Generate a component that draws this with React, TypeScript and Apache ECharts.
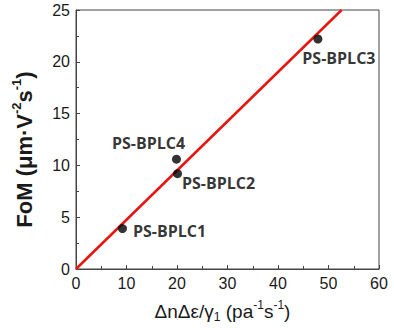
import React, { useEffect, useRef } from "react";
import * as echarts from "echarts";

const sampleNames = ["PS-BPLC1", "PS-BPLC2", "PS-BPLC4", "PS-BPLC3"];
const xValues = [9.2, 20.1, 19.9, 47.9];
const yValues = [3.9, 9.2, 10.6, 22.2];
const fitX = [0, 52.6];
const fitY = [0, 25];
const xTicks = [0, 10, 20, 30, 40, 50, 60];
const yTicks = [0, 5, 10, 15, 20, 25];

const labelPlacement: Record<string, any> = {
  "PS-BPLC1": { position: "right", distance: 6, offset: [0, 2] },
  "PS-BPLC2": { position: "right", distance: 0, offset: [0, 9] },
  "PS-BPLC4": { position: "top", distance: 4, offset: [-28, 0] },
  "PS-BPLC3": { position: "bottom", distance: 4, offset: [21, 2] },
};

export default function App() {
  const ref = useRef<HTMLDivElement>(null);
  useEffect(() => {
    if (!ref.current) return;
    const chart = echarts.init(ref.current, null, { renderer: "svg" });
    const axisColor = "#444";
    const textColor = "#1a1a1a";
    const font = "Liberation Sans, Arial, sans-serif";
    chart.setOption({
      animation: false,
      backgroundColor: "#fff",
      grid: {
        left: 76,
        right: 15,
        top: 10,
        bottom: 58,
        show: true,
        borderColor: axisColor,
        borderWidth: 1,
        containLabel: false,
      },
      xAxis: {
        type: "value",
        min: xTicks[0],
        max: xTicks[xTicks.length - 1],
        interval: 10,
        splitLine: { show: false },
        axisLine: { show: true, lineStyle: { color: axisColor, width: 1 } },
        axisTick: { show: true, inside: true, length: 4, lineStyle: { color: axisColor } },
        minorTick: { show: true, splitNumber: 2, length: 3, lineStyle: { color: axisColor } },
        axisLabel: { color: textColor, fontSize: 16, fontFamily: font, margin: 6 },
        name: "{t|ΔnΔε/γ}{sub|1}{t| (pa}{sup|-1}{t|s}{sup|-1}{t|)}",
        nameLocation: "middle",
        nameGap: 30,
        nameTextStyle: {
          padding: [0, 10, 0, 0],
          rich: {
            t: { fontSize: 19, fontFamily: font, color: textColor, lineHeight: 24, verticalAlign: "middle" },
            sup: { fontSize: 12, fontFamily: font, color: textColor, verticalAlign: "top", lineHeight: 24 },
            sub: { fontSize: 12, fontFamily: font, color: textColor, verticalAlign: "bottom", lineHeight: 17 },
          },
        },
      },
      yAxis: {
        type: "value",
        min: yTicks[0],
        max: yTicks[yTicks.length - 1],
        interval: 5,
        splitLine: { show: false },
        axisLine: { show: true, lineStyle: { color: axisColor, width: 1 } },
        axisTick: { show: true, inside: true, length: 4, lineStyle: { color: axisColor } },
        minorTick: { show: true, splitNumber: 2, length: 3, lineStyle: { color: axisColor } },
        axisLabel: { color: textColor, fontSize: 16, fontFamily: font, margin: 6 },
        name: "{t|FoM (μm·V}{sup|-2}{t|s}{sup|-1}{t|)}",
        nameLocation: "middle",
        nameGap: 38,
        nameTextStyle: {
          padding: [0, 20, 0, 0],
          rich: {
            t: { fontSize: 22, fontWeight: "bold", fontFamily: font, color: textColor, lineHeight: 28, verticalAlign: "middle" },
            sup: { fontSize: 13, fontWeight: "bold", fontFamily: font, color: textColor, verticalAlign: "top", lineHeight: 28 },
          },
        },
      },
      series: [
        {
          type: "line",
          data: fitX.map((x, i) => [x, fitY[i]]),
          symbol: "none",
          lineStyle: { color: "#e8140f", width: 2.5 },
          z: 2,
        },
        {
          type: "scatter",
          symbol: "circle",
          symbolSize: 9,
          itemStyle: { color: "#000" },
          z: 3,
          data: sampleNames.map((name, i) => ({
            name,
            value: [xValues[i], yValues[i]],
            label: {
              show: true,
              formatter: name,
              color: "#000",
              fontSize: 16,
              fontWeight: "bold",
              fontFamily: "Open Sans, sans-serif",
              ...labelPlacement[name],
            },
          })),
        },
      ],
    });
    return () => chart.dispose();
  }, []);
  return <div ref={ref} style={{ width: 394, height: 328, position: "absolute", left: 0, top: 0 }} />;
}
